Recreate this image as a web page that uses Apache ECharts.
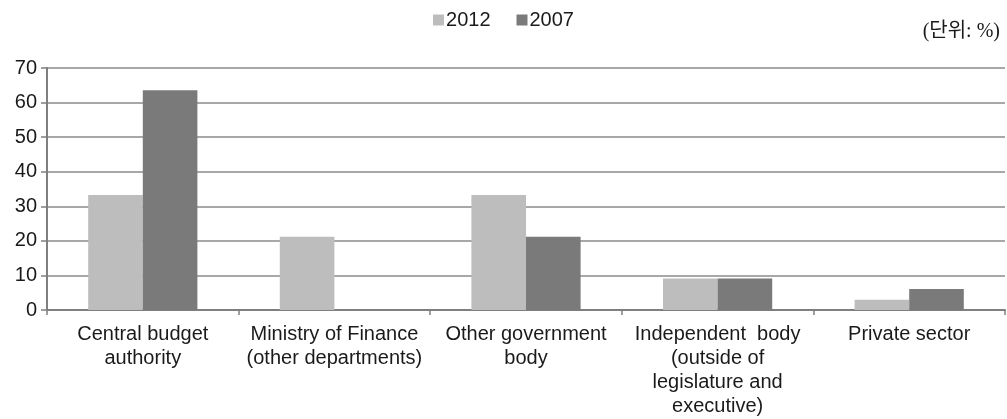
<!DOCTYPE html>
<html>
<head>
<meta charset="utf-8">
<script src="https://cdn.jsdelivr.net/npm/echarts@6/dist/echarts.min.js"></script>
<style>
  html, body { margin: 0; padding: 0; background: #fff; }
  #chart { width: 1007px; height: 419px; }
</style>
</head>
<body>
<div id="chart"></div>
<script>
// Who performs the function (share of respondents, %)
const categories = [
  'Central budget\nauthority',
  'Ministry of Finance\n(other departments)',
  'Other government\nbody',
  'Independent  body\n(outside of\nlegislature and\nexecutive)',
  'Private sector'
];
const seriesNames = ['2012', '2007'];
const values2012 = [33.3, 21.2, 33.3, 9.1, 3.0];
const values2007 = [63.6, 0, 21.2, 9.1, 6.1];
const yTicks = [0, 10, 20, 30, 40, 50, 60, 70];
const unitLabel = '(단위: %)';

const font = 'Liberation Sans, Arial, sans-serif';
const textColor = '#1a1a1a';
const chart = echarts.init(document.getElementById('chart'), null, { renderer: 'canvas' });

chart.setOption({
  animation: false,
  backgroundColor: '#ffffff',
  legend: {
    data: seriesNames,
    top: 5,
    left: 'center',
    itemWidth: 11,
    itemHeight: 11,
    itemGap: 26,
    icon: 'rect',
    textStyle: { fontFamily: font, fontSize: 20, color: textColor, padding: [0, 0, 0, -3] }
  },
  graphic: [{
    type: 'text',
    right: 7,
    top: 22,
    style: {
      text: unitLabel,
      font: '20px "Liberation Serif", "Noto Sans CJK KR", serif',
      fill: textColor
    }
  }],
  grid: { left: 47, right: 2, top: 68, bottom: 109, containLabel: false },
  xAxis: {
    type: 'category',
    data: categories,
    axisLine: { lineStyle: { color: '#7f7f7f', width: 2 } },
    axisTick: { show: true, length: 5, lineStyle: { color: '#7f7f7f', width: 1.5 } },
    axisLabel: {
      interval: 0,
      fontFamily: font,
      fontSize: 20,
      color: textColor,
      lineHeight: 24,
      margin: 12
    }
  },
  yAxis: {
    type: 'value',
    min: yTicks[0],
    max: yTicks[yTicks.length - 1],
    interval: 10,
    axisLine: { show: true, lineStyle: { color: '#7f7f7f', width: 2 } },
    axisTick: { show: true, length: 6, lineStyle: { color: '#7f7f7f', width: 1.5 } },
    splitLine: { lineStyle: { color: '#a8a8a8', width: 2 } },
    axisLabel: { fontFamily: font, fontSize: 20, color: textColor, margin: 10 }
  },
  series: [
    {
      name: seriesNames[0],
      type: 'bar',
      data: values2012,
      barGap: '0%',
      barCategoryGap: '43%',
      itemStyle: { color: '#bdbdbd' }
    },
    {
      name: seriesNames[1],
      type: 'bar',
      data: values2007,
      itemStyle: { color: '#7a7a7a' }
    }
  ]
});
</script>
</body>
</html>
